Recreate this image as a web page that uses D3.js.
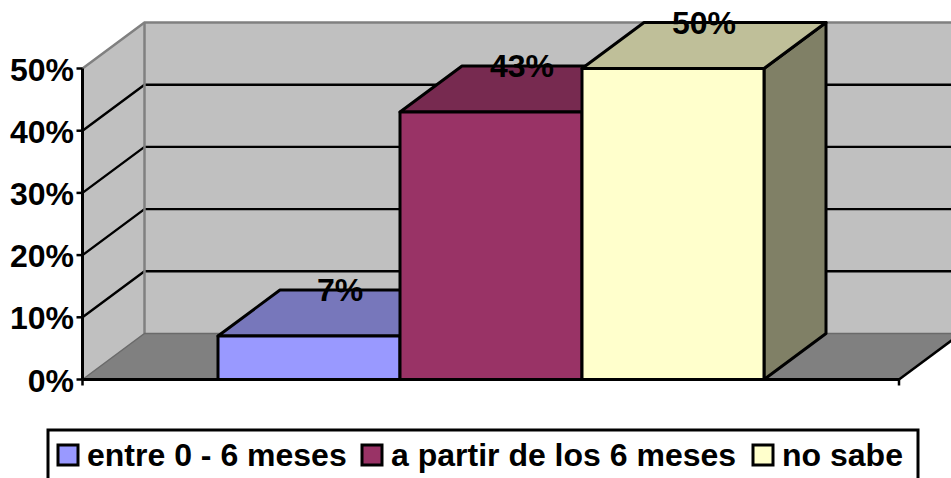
<!DOCTYPE html>
<html><head><meta charset="utf-8">
<style>html,body{margin:0;padding:0;background:#fff;overflow:hidden}svg{display:block}
text{font-family:"Liberation Sans",Arial,sans-serif;font-weight:bold;fill:#000}</style>
<script src="https://cdn.jsdelivr.net/npm/d3@7/dist/d3.min.js"></script></head><body>
<script>
const categories=["entre 0 - 6 meses","a partir de los 6 meses","no sabe"];
const values=[7,43,50];
const valueLabels=["7%","43%","50%"];
const tickValues=[0,10,20,30,40,50];
const frontColors=["#9999FF","#993366","#FFFFCC"];
const topColors=["#7777BB","#772A50","#BFBF99"];
const sideColors=["#666699","#662244","#808066"];
const W=951,H=478;
const dx=62,dy=-46;
const y=d3.scaleLinear().domain([0,50]).range([379.5,68.5]);
const plotX=[82.5,899];
const x=d3.scaleBand().domain(categories).range([218,764]);
const svg=d3.select("body").append("svg").attr("width",W).attr("height",H);
const poly=pts=>pts.map(p=>p.join(",")).join(" ");
const y0=y(0),yT=y(50),xL=plotX[0],xR=plotX[1];
svg.append("polygon").attr("points",poly([[xL+dx,yT+dy],[xR+dx,yT+dy],[xR+dx,y0+dy],[xL+dx,y0+dy]])).attr("fill","#C0C0C0");
svg.append("polygon").attr("points",poly([[xL,yT],[xL+dx,yT+dy],[xL+dx,y0+dy],[xL,y0]])).attr("fill","#C0C0C0");
const gt=tickValues.filter(t=>t>0&&t<50);
svg.selectAll(".g").data(gt).join("polyline").attr("fill","none").attr("stroke","#000").attr("stroke-width",2.4)
 .attr("points",t=>poly([[xL,y(t)],[xL+dx,y(t)+dy],[xR+dx,y(t)+dy]]));
svg.append("polygon").attr("points",poly([[xL,y0],[xL+dx,y0+dy],[xR+dx,y0+dy],[xR,y0]])).attr("fill","#808080");
svg.append("polyline").attr("fill","none").attr("stroke","#808080").attr("stroke-width",2.5)
 .attr("points",poly([[xL,yT],[xL+dx,yT+dy],[xR+dx,yT+dy]]));
svg.append("line").attr("x1",xL+dx).attr("x2",xL+dx).attr("y1",yT+dy).attr("y2",y0+dy).attr("stroke","#808080").attr("stroke-width",2.5);
svg.append("polyline").attr("fill","none").attr("stroke","#6a6a6a").attr("stroke-width",1.5)
 .attr("points",poly([[xL,y0],[xL+dx,y0+dy],[xR+dx,y0+dy]]));
const bars=svg.selectAll(".bar").data(categories).join("g").attr("stroke","#000").attr("stroke-width",3).attr("stroke-linejoin","round");
bars.each(function(c,i){
  const g=d3.select(this),a=x(c),b=a+x.bandwidth(),t=y(values[i]);
  g.append("polygon").attr("fill",sideColors[i]).attr("points",poly([[b,t],[b+dx,t+dy],[b+dx,y0+dy],[b,y0]]));
  g.append("polygon").attr("fill",topColors[i]).attr("points",poly([[a,t],[a+dx,t+dy],[b+dx,t+dy],[b,t]]));
  g.append("rect").attr("fill",frontColors[i]).attr("x",a).attr("y",t).attr("width",b-a).attr("height",y0-t);
});
svg.append("line").attr("x1",xL).attr("x2",xL).attr("y1",yT).attr("y2",y0).attr("stroke","#000").attr("stroke-width",3);
svg.append("line").attr("x1",xL).attr("x2",xR).attr("y1",y0).attr("y2",y0).attr("stroke","#000").attr("stroke-width",3);
svg.selectAll(".t").data(tickValues).join("line").attr("x1",xL-6).attr("x2",xL).attr("y1",y).attr("y2",y).attr("stroke","#000").attr("stroke-width",2.5);
svg.selectAll(".b").data(plotX).join("line").attr("x1",d=>d).attr("x2",d=>d).attr("y1",y0).attr("y2",y0+6).attr("stroke","#000").attr("stroke-width",2.5);
svg.append("line").attr("x1",xR).attr("y1",y0).attr("x2",xR+dx).attr("y2",y0+dy).attr("stroke","#000").attr("stroke-width",2.5);
svg.selectAll(".tl").data(tickValues).join("text").attr("text-anchor","end").attr("x",74).attr("y",t=>y(t)+12).attr("font-size",32).text(t=>t+"%");
svg.selectAll(".vl").data(categories).join("text").attr("text-anchor","middle").attr("font-size",32)
 .attr("x",c=>x(c)+x.bandwidth()/2+dx/2).attr("y",(c,i)=>y(values[i])-35).text((c,i)=>valueLabels[i]);
svg.append("rect").attr("x",48).attr("y",430).attr("width",870).attr("height",60).attr("fill","#fff").attr("stroke","#000").attr("stroke-width",3);
const swatchX=[58,362,753],textX=[87,391,782];
svg.selectAll(".s").data(categories).join("rect").attr("x",(c,i)=>swatchX[i]).attr("y",445).attr("width",20).attr("height",20).attr("fill",(c,i)=>frontColors[i]).attr("stroke","#000").attr("stroke-width",3);
svg.selectAll(".lt").data(categories).join("text").attr("x",(c,i)=>textX[i]).attr("y",466).attr("font-size",32).text(c=>c);
</script></body></html>
